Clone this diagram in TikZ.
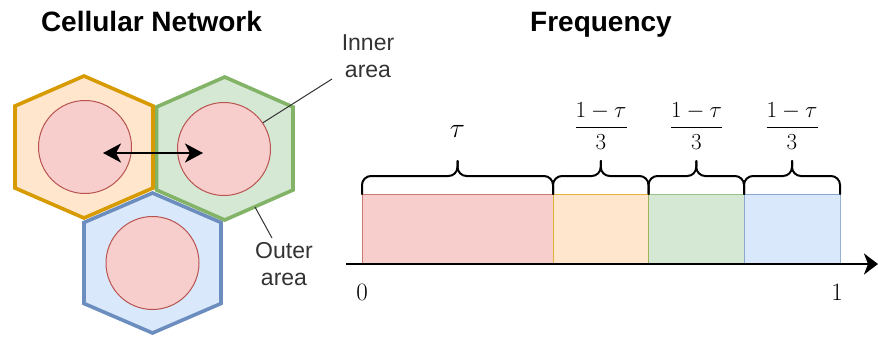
\RequirePackage{fix-cm}
\documentclass[tikz,border=0pt]{standalone}
\usepackage{amsmath}
\usepackage{fontspec}
\newfontfamily\lsans{Liberation Sans}
\usetikzlibrary{arrows.meta}
\definecolor{orFill}{HTML}{FFE6CC}
\definecolor{orLine}{HTML}{D79B00}
\definecolor{grFill}{HTML}{D5E8D4}
\definecolor{grLine}{HTML}{82B366}
\definecolor{blFill}{HTML}{DAE8FC}
\definecolor{blLine}{HTML}{6C8EBF}
\definecolor{rdFill}{HTML}{F8CECC}
\definecolor{rdLine}{HTML}{B85450}
\begin{document}
\begin{tikzpicture}[x=1pt,y=-1pt,
  hexcell/.style={line width=3.6pt, line join=miter},
  inner/.style={circle, draw=rdLine, fill=rdFill, line width=1pt, minimum size=93pt, inner sep=0pt},
  titletext/.style={font=\lsans\bfseries\fontsize{28}{34}\selectfont, anchor=base, text=black},
  labeltext/.style={font=\lsans\fontsize{23}{27}\selectfont, align=center, text=black!80},
  pointer/.style={line width=1pt, draw=black!80},
  bar/.style={line width=1pt, draw opacity=0.7},
  bracestyle/.style={line width=2pt, rounded corners=9pt, line cap=round},
  mathtext/.style={anchor=base, inner sep=0pt}
]
\useasboundingbox (0,0) rectangle (878,338);

% titles
\node[titletext] (t1) at (151.5,31.7) {Cellular Network};
\node[titletext] (t2) at (601,31.7) {Frequency};

% hexagons
\draw[hexcell, draw=grLine, fill=grFill] (224.75,77) -- (293,107) -- (293,190) -- (224.75,220) -- (156.5,190) -- (156.5,107) -- cycle;
\draw[hexcell, draw=orLine, fill=orFill] (84,76) -- (153,106) -- (153,188) -- (84,218) -- (15,188) -- (15,106) -- cycle;
\draw[hexcell, draw=blLine, fill=blFill] (152.5,193) -- (221,222.5) -- (221,303.5) -- (152.5,333) -- (84,303.5) -- (84,222.5) -- cycle;

% inner circles
\node[inner] (c1) at (85,147) {};
\node[inner] (c2) at (224,149) {};
\node[inner] (c3) at (152.5,263) {};

% double arrow
\coordinate (a1) at (103,153);
\coordinate (a2) at (203,153);
\draw[line width=2pt, {Stealth[length=18pt,width=19pt,inset=5pt]}-{Stealth[length=18pt,width=19pt,inset=5pt]}] (a1) -- (a2);

% labels
\node[labeltext] (lin) at (368,56.6) {Inner\\area};
\node[labeltext] (lout) at (284,264.4) {Outer\\area};
\coordinate (pin) at (332,79);
\coordinate (hexpt) at (255,207);
\coordinate (pout) at (272,238);
\draw[pointer] (c2.34) -- (pin);
\draw[pointer] (hexpt) -- (pout);

% frequency bars
\draw[bar, draw=rdLine, fill=rdFill] (362,194) rectangle (553,264);
\draw[bar, draw=orLine, fill=orFill] (553,194) rectangle (648.5,264);
\draw[bar, draw=grLine, fill=grFill] (648.5,194) rectangle (744,264);
\draw[bar, draw=blLine, fill=blFill] (744,194) rectangle (840,264);

% axis
\coordinate (ax0) at (346,264);
\coordinate (ax1) at (878,264);
\draw[line width=2.6pt, -{Stealth[length=14pt,width=21pt,inset=4pt]}] (ax0) -- (ax1);

% braces
\newcommand\freqbrace[3]{%
  \draw[bracestyle] (#1,194) -- (#1,176) -- (#3,176) -- (#3,161);
  \draw[bracestyle] (#2,194) -- (#2,176) -- (#3,176) -- (#3,161);}
\freqbrace{362}{553}{457.5}
\freqbrace{553}{648.5}{600.75}
\freqbrace{648.5}{744}{696.25}
\freqbrace{744}{840}{792}

% math labels
\node[mathtext, font=\fontsize{28}{34}\selectfont] (tau) at (457.5,137) {$\tau$};
\node[mathtext, font=\fontsize{23}{28}\selectfont] (f1) at (601,133.4) {$\dfrac{1-\tau}{3}$};
\node[mathtext, font=\fontsize{23}{28}\selectfont] (f2) at (696.5,133.4) {$\dfrac{1-\tau}{3}$};
\node[mathtext, font=\fontsize{23}{28}\selectfont] (f3) at (792,133.4) {$\dfrac{1-\tau}{3}$};
\node[mathtext, font=\fontsize{25}{30}\selectfont] (z0) at (362,300) {$0$};
\node[mathtext, font=\fontsize{25}{30}\selectfont] (z1) at (837,300.5) {$1$};
\end{tikzpicture}
\end{document}
